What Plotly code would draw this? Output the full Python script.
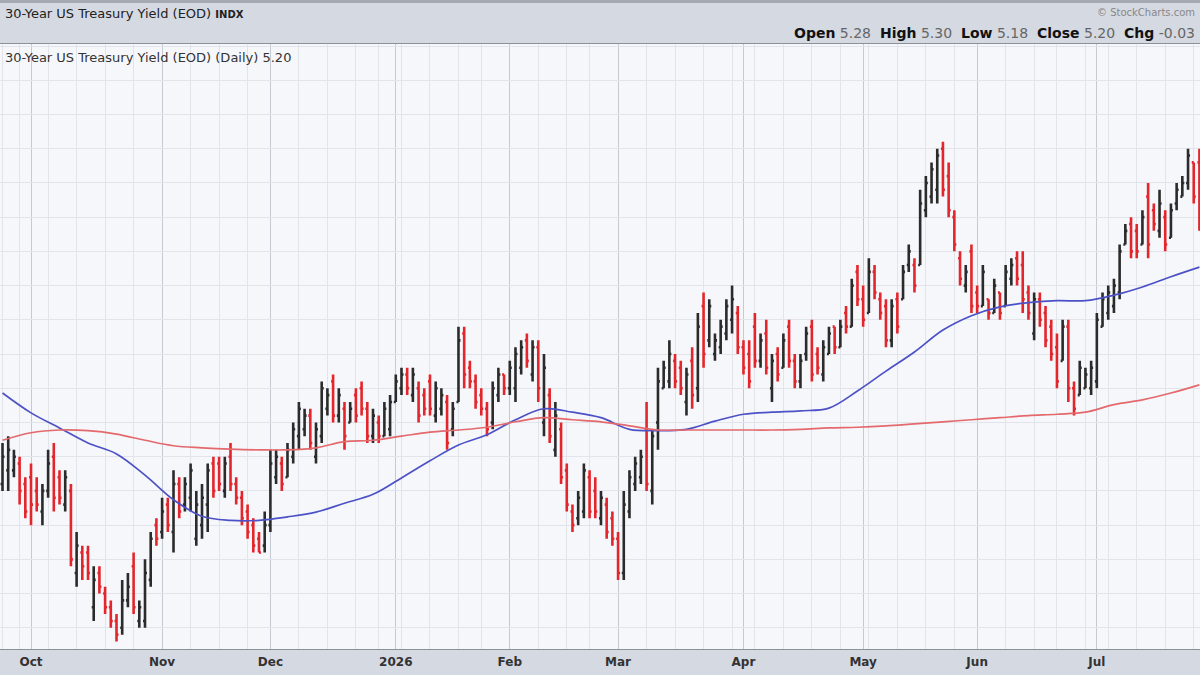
import pandas as pd
import plotly.graph_objects as go

# -----------------------------------------
# Daily bars, 30-Year US Treasury Yield
# -----------------------------------------
FIRST_DAY = "2025-09-24"

# Exchange holidays inside the window (no session on these days)
HOLIDAYS = ["2025-11-27", "2025-12-25", "2026-01-01", "2026-01-19",
            "2026-02-16", "2026-04-03", "2026-05-25", "2026-06-19",
            "2026-07-03"]

opens = [
    4.81, 4.83, 4.83, 4.84, 4.81, 4.82, 4.80, 4.77, 4.80, 4.85,
    4.82, 4.78, 4.80, 4.68, 4.71, 4.71, 4.63, 4.68, 4.65, 4.63,
    4.61, 4.60, 4.64, 4.69, 4.61, 4.61, 4.67, 4.75, 4.74, 4.78,
    4.74, 4.81, 4.78, 4.79, 4.73, 4.75, 4.78, 4.84, 4.84, 4.80,
    4.85, 4.81, 4.79, 4.77, 4.75, 4.73, 4.72, 4.75, 4.82, 4.84,
    4.82, 4.85, 4.88, 4.89, 4.91, 4.85, 4.88, 4.92, 4.96, 4.91,
    4.92, 4.90, 4.94, 4.95, 4.92, 4.88, 4.90, 4.88, 4.89, 4.93,
    4.95, 4.97, 4.94, 4.95, 4.94, 4.96, 4.91, 4.92, 4.93, 4.89,
    4.93, 5.03, 4.98, 4.96, 4.94, 4.92, 4.90, 4.94, 4.97, 4.95,
    4.95, 4.98, 5.02, 4.97, 5.01, 4.90, 4.94, 4.86, 4.89, 4.83,
    4.77, 4.76, 4.77, 4.82, 4.80, 4.76, 4.78, 4.76, 4.73, 4.68,
    4.77, 4.81, 4.82, 4.89, 4.80, 4.90, 4.95, 4.96, 4.99, 4.98,
    4.93, 4.99, 4.95, 5.07, 5.02, 5.00, 5.01, 5.03, 5.05, 5.06,
    5.01, 5.00, 5.04, 4.99, 5.03, 4.95, 5.00, 4.98, 5.04, 4.99,
    4.96, 5.00, 5.04, 5.00, 4.97, 5.00, 5.04, 5.01, 5.06, 5.04,
    5.12, 5.08, 5.06, 5.12, 5.08, 5.07, 5.02, 5.08, 5.08, 5.13,
    5.13, 5.13, 5.21, 5.23, 5.24, 5.30, 5.26, 5.20, 5.14, 5.10,
    5.15, 5.09, 5.07, 5.08, 5.06, 5.09, 5.07, 5.11, 5.14, 5.13,
    5.09, 5.03, 5.08, 5.06, 5.04, 5.01, 4.99, 5.04, 4.95, 4.94,
    4.95, 4.95, 4.96, 5.04, 5.06, 5.07, 5.09, 5.16, 5.19, 5.18,
    5.16, 5.23, 5.21, 5.18, 5.20, 5.17, 5.22, 5.23, 5.25, 5.28,
    5.28,
]

highs = [
    4.87, 4.88, 4.86, 4.85, 4.82, 4.84, 4.82, 4.81, 4.86, 4.87,
    4.83, 4.83, 4.81, 4.74, 4.72, 4.72, 4.69, 4.69, 4.66, 4.64,
    4.62, 4.67, 4.68, 4.71, 4.64, 4.70, 4.74, 4.76, 4.79, 4.79,
    4.83, 4.82, 4.82, 4.84, 4.80, 4.81, 4.84, 4.85, 4.85, 4.85,
    4.87, 4.82, 4.80, 4.78, 4.76, 4.74, 4.77, 4.86, 4.86, 4.85,
    4.87, 4.90, 4.93, 4.92, 4.92, 4.90, 4.96, 4.95, 4.97, 4.95,
    4.93, 4.93, 4.95, 4.96, 4.93, 4.92, 4.91, 4.93, 4.94, 4.97,
    4.98, 4.98, 4.98, 4.96, 4.95, 4.97, 4.96, 4.95, 4.94, 4.93,
    5.04, 5.04, 4.99, 4.97, 4.95, 4.93, 4.96, 4.98, 4.97, 4.99,
    5.01, 5.02, 5.03, 5.02, 5.02, 5.00, 4.95, 4.93, 4.90, 4.84,
    4.78, 4.80, 4.84, 4.83, 4.82, 4.80, 4.79, 4.77, 4.74, 4.80,
    4.83, 4.85, 4.86, 4.93, 4.89, 4.98, 4.99, 5.02, 5.00, 4.99,
    4.98, 5.01, 5.06, 5.09, 5.08, 5.03, 5.05, 5.08, 5.10, 5.07,
    5.02, 5.02, 5.06, 5.03, 5.05, 5.00, 5.01, 5.03, 5.05, 5.00,
    5.00, 5.04, 5.05, 5.01, 5.02, 5.04, 5.04, 5.05, 5.07, 5.11,
    5.13, 5.10, 5.14, 5.13, 5.09, 5.08, 5.08, 5.09, 5.13, 5.16,
    5.14, 5.24, 5.26, 5.28, 5.30, 5.31, 5.28, 5.21, 5.15, 5.13,
    5.16, 5.10, 5.13, 5.08, 5.11, 5.09, 5.13, 5.14, 5.15, 5.15,
    5.10, 5.09, 5.09, 5.07, 5.05, 5.03, 5.05, 5.05, 4.96, 4.99,
    4.98, 4.99, 5.06, 5.09, 5.10, 5.11, 5.16, 5.19, 5.20, 5.19,
    5.21, 5.25, 5.22, 5.24, 5.21, 5.22, 5.25, 5.26, 5.30, 5.28,
    5.30,
]

lows = [
    4.80, 4.80, 4.82, 4.78, 4.76, 4.75, 4.77, 4.75, 4.79, 4.77,
    4.78, 4.77, 4.69, 4.66, 4.67, 4.67, 4.61, 4.65, 4.62, 4.60,
    4.58, 4.59, 4.63, 4.62, 4.60, 4.60, 4.66, 4.72, 4.73, 4.74,
    4.71, 4.76, 4.77, 4.77, 4.72, 4.73, 4.74, 4.79, 4.80, 4.79,
    4.80, 4.78, 4.75, 4.73, 4.71, 4.71, 4.71, 4.74, 4.81, 4.80,
    4.82, 4.84, 4.86, 4.88, 4.86, 4.84, 4.87, 4.91, 4.90, 4.90,
    4.86, 4.90, 4.90, 4.91, 4.87, 4.87, 4.87, 4.88, 4.88, 4.93,
    4.94, 4.94, 4.93, 4.90, 4.91, 4.91, 4.90, 4.91, 4.86, 4.88,
    4.93, 4.95, 4.95, 4.92, 4.91, 4.88, 4.89, 4.93, 4.94, 4.94,
    4.93, 4.97, 4.98, 4.96, 4.93, 4.88, 4.87, 4.85, 4.81, 4.77,
    4.74, 4.75, 4.76, 4.76, 4.76, 4.75, 4.73, 4.72, 4.67, 4.67,
    4.76, 4.80, 4.81, 4.80, 4.78, 4.86, 4.95, 4.95, 4.95, 4.94,
    4.91, 4.92, 4.93, 4.98, 5.01, 4.99, 5.00, 5.02, 5.03, 5.00,
    4.97, 4.95, 4.98, 4.98, 4.97, 4.93, 4.96, 4.98, 4.98, 4.95,
    4.95, 4.99, 4.96, 4.97, 4.96, 5.00, 5.00, 5.01, 5.03, 5.04,
    5.07, 5.04, 5.06, 5.08, 5.05, 5.01, 5.01, 5.03, 5.08, 5.12,
    5.09, 5.13, 5.20, 5.22, 5.22, 5.23, 5.20, 5.15, 5.10, 5.09,
    5.06, 5.06, 5.07, 5.05, 5.06, 5.05, 5.07, 5.10, 5.10, 5.06,
    5.05, 5.02, 5.04, 5.01, 4.99, 4.95, 4.99, 4.93, 4.91, 4.94,
    4.95, 4.94, 4.95, 5.04, 5.05, 5.06, 5.08, 5.16, 5.14, 5.14,
    5.16, 5.14, 5.18, 5.17, 5.15, 5.17, 5.21, 5.23, 5.24, 5.22,
    5.18,
]

closes = [
    4.85, 4.86, 4.85, 4.80, 4.77, 4.78, 4.78, 4.80, 4.84, 4.79,
    4.79, 4.82, 4.70, 4.72, 4.69, 4.68, 4.67, 4.66, 4.63, 4.61,
    4.59, 4.64, 4.66, 4.63, 4.63, 4.68, 4.73, 4.73, 4.77, 4.75,
    4.81, 4.77, 4.81, 4.83, 4.78, 4.79, 4.83, 4.80, 4.81, 4.84,
    4.81, 4.79, 4.76, 4.74, 4.72, 4.71, 4.75, 4.84, 4.85, 4.81,
    4.86, 4.89, 4.92, 4.91, 4.87, 4.89, 4.95, 4.94, 4.91, 4.94,
    4.88, 4.92, 4.91, 4.92, 4.88, 4.91, 4.88, 4.92, 4.93, 4.96,
    4.97, 4.95, 4.97, 4.91, 4.92, 4.92, 4.95, 4.94, 4.87, 4.92,
    5.02, 4.97, 4.96, 4.93, 4.92, 4.89, 4.95, 4.97, 4.95, 4.98,
    5.00, 5.01, 4.99, 5.01, 4.95, 4.98, 4.88, 4.91, 4.82, 4.78,
    4.75, 4.79, 4.83, 4.77, 4.77, 4.79, 4.74, 4.73, 4.68, 4.78,
    4.82, 4.84, 4.85, 4.81, 4.88, 4.96, 4.98, 5.00, 4.96, 4.95,
    4.97, 4.94, 5.04, 5.00, 5.07, 5.02, 5.04, 5.07, 5.08, 5.01,
    4.98, 4.96, 4.99, 5.02, 4.98, 4.99, 4.97, 5.02, 4.99, 4.96,
    4.99, 5.03, 4.97, 4.98, 5.01, 5.03, 5.01, 5.04, 5.04, 5.10,
    5.08, 5.05, 5.12, 5.09, 5.06, 5.02, 5.07, 5.04, 5.12, 5.15,
    5.10, 5.22, 5.25, 5.27, 5.29, 5.24, 5.21, 5.16, 5.11, 5.12,
    5.07, 5.07, 5.12, 5.06, 5.10, 5.06, 5.12, 5.13, 5.11, 5.08,
    5.06, 5.08, 5.05, 5.02, 5.00, 4.96, 5.04, 4.95, 4.92, 4.98,
    4.97, 4.98, 5.05, 5.08, 5.09, 5.10, 5.15, 5.18, 5.15, 5.15,
    5.20, 5.16, 5.19, 5.22, 5.16, 5.21, 5.24, 5.25, 5.29, 5.23,
    5.20,
]

# Moving averages every fifth session
ma50 = [4.943, 4.914, 4.892, 4.870, 4.854, 4.823, 4.787, 4.763, 4.757, 4.757,
        4.762, 4.769, 4.782, 4.795, 4.819, 4.844, 4.867, 4.882, 4.904, 4.920,
        4.915, 4.907, 4.890, 4.888, 4.890, 4.902, 4.912, 4.915, 4.917, 4.921,
        4.946, 4.975, 5.003, 5.035, 5.056, 5.069, 5.075, 5.078, 5.078, 5.086,
        5.098, 5.113, 5.127]

ma200 = [4.874, 4.885, 4.889, 4.888, 4.883, 4.874, 4.866, 4.863, 4.861, 4.860,
         4.860, 4.863, 4.872, 4.874, 4.880, 4.886, 4.889, 4.893, 4.901, 4.907,
         4.904, 4.901, 4.895, 4.889, 4.889, 4.889, 4.889, 4.889, 4.890, 4.892,
         4.893, 4.895, 4.898, 4.901, 4.904, 4.907, 4.910, 4.912, 4.915, 4.926,
         4.933, 4.943, 4.955]

MONTH_LABELS = ["Oct", "Nov", "Dec", "2026", "Feb", "Mar", "Apr", "May", "Jun", "Jul"]

# Trading sessions (weekdays minus holidays)
dates = pd.bdate_range(FIRST_DAY, periods=len(closes), freq="C", holidays=HOLIDAYS)
ma_dates = dates[::5]

# First session of each month -> major grid + labels
month_starts = [d for k, d in enumerate(dates) if k > 0 and d.month != dates[k - 1].month]

# First session of each week -> minor grid
week_starts = [d for k, d in enumerate(dates)
               if k == 0 or d.isocalendar().week != dates[k - 1].isocalendar().week]

HEADER_BG = "#d5d9e2"
PLOT_BG = "#f6f7fb"
FONT = "DejaVu Sans"

fig = go.Figure()

# Price bars
fig.add_trace(go.Ohlc(
    x=dates, open=opens, high=highs, low=lows, close=closes,
    increasing=dict(line=dict(color="#2b2b2b", width=2.6)),
    decreasing=dict(line=dict(color="#e3262b", width=2.6)),
    tickwidth=0.35,
    name="Daily",
))

# Moving average overlays
fig.add_trace(go.Scatter(
    x=ma_dates, y=ma50, mode="lines", name="MA(50)",
    line=dict(color="#4c52c6", width=1.7, shape="spline"),
))
fig.add_trace(go.Scatter(
    x=ma_dates, y=ma200, mode="lines", name="MA(200)",
    line=dict(color="#e3696d", width=1.7, shape="spline"),
))

# Plot area runs from y=44px to y=649px
PLOT_TOP, PLOT_BOTTOM = 44, 649
span = PLOT_BOTTOM - PLOT_TOP


def py(pixel_y):
    # pixel row -> paper coordinate
    return (PLOT_BOTTOM - pixel_y) / span


x_left = pd.Timestamp(FIRST_DAY) - pd.Timedelta(hours=10.6)
x_right = dates[-1] + pd.Timedelta(hours=2.4)

fig.update_layout(
    width=1200, height=675,
    margin=dict(l=0, r=0, t=PLOT_TOP, b=675 - PLOT_BOTTOM, pad=0, autoexpand=False),
    paper_bgcolor=HEADER_BG,
    plot_bgcolor=PLOT_BG,
    showlegend=False,
    font=dict(family=FONT, color="#222"),
    xaxis=dict(
        type="date",
        range=[x_left, x_right],
        rangeslider=dict(visible=False),
        rangebreaks=[dict(bounds=["sat", "mon"]), dict(values=HOLIDAYS)],
        tickmode="array",
        tickvals=month_starts,
        ticktext=MONTH_LABELS,
        tickfont=dict(family=FONT, size=12, color="#333", weight="bold"),
        ticks="outside", ticklen=1, tickcolor=HEADER_BG,
        showgrid=True, gridcolor="#c4c9d2", gridwidth=1.4,
        minor=dict(tickmode="array", tickvals=week_starts,
                   showgrid=True, gridcolor="#e1e4ea", gridwidth=1),
        showline=True, mirror=True, linecolor="#8b9099", linewidth=1.2,
        zeroline=False,
    ),
    yaxis=dict(
        range=[4.569, 5.453],
        tick0=4.6, dtick=0.05,
        showticklabels=False, ticks="",
        showgrid=True, gridcolor="#e1e4ea", gridwidth=1,
        zeroline=False,
    ),
)

# Thin dark strip along the very top edge
fig.add_shape(type="rect", xref="paper", yref="paper",
              x0=0, x1=1, y0=py(3), y1=py(0),
              fillcolor="#a4a9b2", line=dict(width=0), layer="above")

# Header: chart title
fig.add_annotation(
    xref="paper", yref="paper", x=3 / 1200, y=py(14),
    xanchor="left", yanchor="middle", showarrow=False,
    text="30-Year US Treasury Yield (EOD) <b><span style='font-size:10px'>INDX</span></b>",
    font=dict(family=FONT, size=13, color="#222"),
)

# Header: copyright
fig.add_annotation(
    xref="paper", yref="paper", x=1197 / 1200, y=py(12),
    xanchor="right", yanchor="middle", showarrow=False,
    text="© StockCharts.com",
    font=dict(family=FONT, size=10, color="#888"),
)

# Header: last bar values
grey = "<span style='color:#666;font-weight:normal'>"
fig.add_annotation(
    xref="paper", yref="paper", x=1197 / 1200, y=py(33),
    xanchor="right", yanchor="middle", showarrow=False,
    text=(f"<b>Open</b> {grey}5.28</span>  <b>High</b> {grey}5.30</span>  "
          f"<b>Low</b> {grey}5.18</span>  <b>Close</b> {grey}5.20</span>  "
          f"<b>Chg</b> {grey}-0.03</span>"),
    font=dict(family=FONT, size=14, color="#111"),
)

# In-chart legend line
fig.add_annotation(
    xref="paper", yref="paper", x=3 / 1200, y=py(58),
    xanchor="left", yanchor="middle", showarrow=False,
    text="30-Year US Treasury Yield (EOD) (Daily) 5.20",
    font=dict(family=FONT, size=13, color="#333"),
)

# Page body has a default 8px margin; drop it so the figure sits at 0,0.
# Modebar hidden so it does not cover the header.
fig.write_html("out.html",
               config={"displayModeBar": False},
               post_script="document.body.style.margin='0';")
